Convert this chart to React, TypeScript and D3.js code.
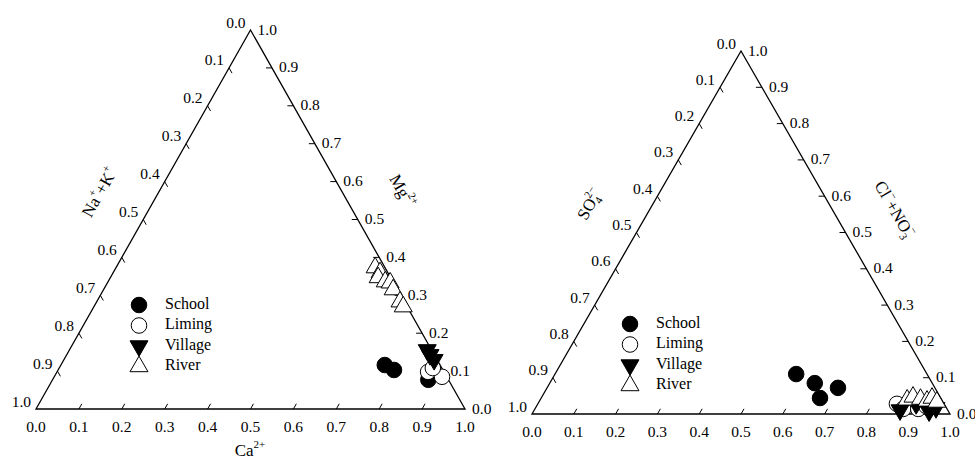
import React from "react";
import * as d3 from "d3";

// cation triangle: [Ca, Mg]  (Na+K = 1 - Ca - Mg)
const schoolCation = [[0.755, 0.116], [0.783, 0.103], [0.876, 0.077]];
const limingCation = [[0.865, 0.098], [0.904, 0.085], [0.871, 0.108]];
const villageCation = [[0.834, 0.156], [0.847, 0.143], [0.863, 0.13]];
const riverCation = [
  [0.604, 0.373], [0.622, 0.36], [0.624, 0.347], [0.646, 0.336],
  [0.659, 0.333], [0.675, 0.315], [0.707, 0.283], [0.721, 0.27],
];

// anion triangle: [HCO3, Cl+NO3]  (SO4 = 1 - HCO3 - Cl)
const schoolAnion = [[0.577, 0.11], [0.634, 0.085], [0.696, 0.072], [0.667, 0.044]];
const limingAnion = [[0.859, 0.028], [0.881, 0.014], [0.917, 0.014], [0.932, 0.022]];
const villageAnion = [[0.875, 0.011], [0.905, 0.028], [0.946, 0.008], [0.958, 0.017]];
const riverAnion = [
  [0.878, 0.039], [0.888, 0.047], [0.909, 0.041],
  [0.927, 0.036], [0.935, 0.044], [0.952, 0.033],
];

const groups = ["School", "Liming", "Village", "River"];
const tickValues = d3.range(0, 11).map((i) => i / 10);

const FONT = "Liberation Serif, DejaVu Serif, serif";
const fmt = d3.format(".1f");

const circlePath = d3.symbol(d3.symbolCircle, 190)()!;
const triPath = d3.symbol(d3.symbolTriangle, 140)()!;

const marker = (name: string, x: number, y: number, key: string) => {
  if (name === "School")
    return <path key={key} d={circlePath} transform={`translate(${x},${y})`} fill="#000" stroke="#000" />;
  if (name === "Liming")
    return <path key={key} d={circlePath} transform={`translate(${x},${y})`} fill="#fff" stroke="#000" />;
  if (name === "Village")
    return <path key={key} d={triPath} transform={`translate(${x},${y}) rotate(180)`} fill="#000" stroke="#000" />;
  return <path key={key} d={triPath} transform={`translate(${x},${y})`} fill="#fff" stroke="#000" />;
};

type Geo = { x0: number; x1: number; yb: number; yt: number };

const Ternary = ({ geo, sets, legend, left, right, bottom }: any) => {
  const g: Geo = geo;
  const x = d3.scaleLinear().domain([0, 1]).range([g.x0, g.x1]);
  const y = d3.scaleLinear().domain([0, 1]).range([g.yb, g.yt]);
  // b = bottom-right component, c = apex component
  const pt = (b: number, c: number) => [x(b + c / 2), y(c)];
  const [blx, bly] = pt(0, 0);
  const [brx, bry] = pt(1, 0);
  const [apx, apy] = pt(0, 1);
  const norm = (dx: number, dy: number) => {
    const l = Math.hypot(dx, dy);
    return [dx / l, dy / l];
  };
  const up = norm(apx - blx, apy - bly);
  const dr = norm(brx - apx, bry - apy);
  const TL = 6;
  const inner = tickValues.slice(1, -1);

  return (
    <g>
      <path d={`M${blx},${bly}L${brx},${bry}L${apx},${apy}Z`} fill="none" stroke="#000" strokeWidth={1.3} />
      {inner.map((v) => {
        const [bx, by] = pt(v, 0);
        const [lx, ly] = pt(0, 1 - v);
        const [rx, ry] = pt(1 - v, v);
        return (
          <g key={"t" + v} stroke="#000" strokeWidth={1}>
            <line x1={bx} y1={by} x2={bx + up[0] * TL} y2={by + up[1] * TL} />
            <line x1={lx} y1={ly} x2={lx + dr[0] * TL} y2={ly + dr[1] * TL} />
            <line x1={rx} y1={ry} x2={rx - TL} y2={ry} />
          </g>
        );
      })}
      <g fontSize={15.5} fill="#000">
        {tickValues.map((v) => {
          const [bx, by] = pt(v, 0);
          const [lx, ly] = pt(0, 1 - v);
          const [rx, ry] = pt(1 - v, v);
          return (
            <g key={"l" + v}>
              <text x={bx} y={by + 19} textAnchor="middle" dominantBaseline="middle">{fmt(v)}</text>
              <text x={lx - 5} y={ly - 6} textAnchor="end" dominantBaseline="middle">{fmt(v)}</text>
              <text x={rx + 7} y={ry + 1} textAnchor="start" dominantBaseline="middle">{fmt(v)}</text>
            </g>
          );
        })}
      </g>
      {sets.map((s: any) =>
        s.data.map((d: number[], i: number) => {
          const [px, py] = pt(d[0], d[1]);
          return marker(s.name, px, py, s.name + i);
        })
      )}
      <g fontSize={16}>
        {groups.map((name, i) => (
          <g key={name}>
            {marker(name, legend.x, legend.y + i * 20.5, "lg" + name)}
            <text x={legend.x + 26} y={legend.y + i * 20.5} dominantBaseline="middle">{name}</text>
          </g>
        ))}
      </g>
      <g fontSize={17}>
        {left}
        {right}
        {bottom}
      </g>
    </g>
  );
};

export default function App() {
  const sup = (t: string, dx = 0) => (
    <tspan fontSize={11} dy={-7} dx={dx}>{t}</tspan>
  );
  return (
    <svg
      width={975}
      height={461}
      style={{ position: "absolute", left: 0, top: 0, display: "block", background: "#fff", fontFamily: FONT }}
    >
      <Ternary
        geo={{ x0: 36, x1: 465, yb: 409, yt: 30 }}
        legend={{ x: 139, y: 305 }}
        sets={[
          { name: "School", data: schoolCation },
          { name: "Liming", data: limingCation },
          { name: "Village", data: villageCation },
          { name: "River", data: riverCation },
        ]}
        left={
          <text transform="translate(101,193) rotate(-60.5)" textAnchor="middle" dominantBaseline="middle">
            Na{sup("+")}<tspan dy={7}>+K</tspan>{sup("+")}
          </text>
        }
        right={
          <text transform="translate(401,192) rotate(60.5)" textAnchor="middle" dominantBaseline="middle">
            Mg{sup("2+")}
          </text>
        }
        bottom={
          <text x={250} y={452} textAnchor="middle" dominantBaseline="middle">
            Ca{sup("2+")}
          </text>
        }
      />
      <Ternary
        geo={{ x0: 532, x1: 950, yb: 414, yt: 51 }}
        legend={{ x: 630, y: 324 }}
        sets={[
          { name: "School", data: schoolAnion },
          { name: "Liming", data: limingAnion },
          { name: "Village", data: villageAnion },
          { name: "River", data: riverAnion },
        ]}
        left={
          <text transform="translate(591,205) rotate(-60)" textAnchor="middle" dominantBaseline="middle">
            SO<tspan fontSize={11} dy={5}>4</tspan>
            <tspan fontSize={11} dy={-12} dx={-6}>2−</tspan>
          </text>
        }
        right={
          <text transform="translate(893,210) rotate(60)" textAnchor="middle" dominantBaseline="middle">
            Cl{sup("−")}<tspan dy={7}>+NO</tspan>
            <tspan fontSize={11} dy={5}>3</tspan>
            <tspan fontSize={11} dy={-12} dx={-6}>−</tspan>
          </text>
        }
        bottom={null}
      />
    </svg>
  );
}
